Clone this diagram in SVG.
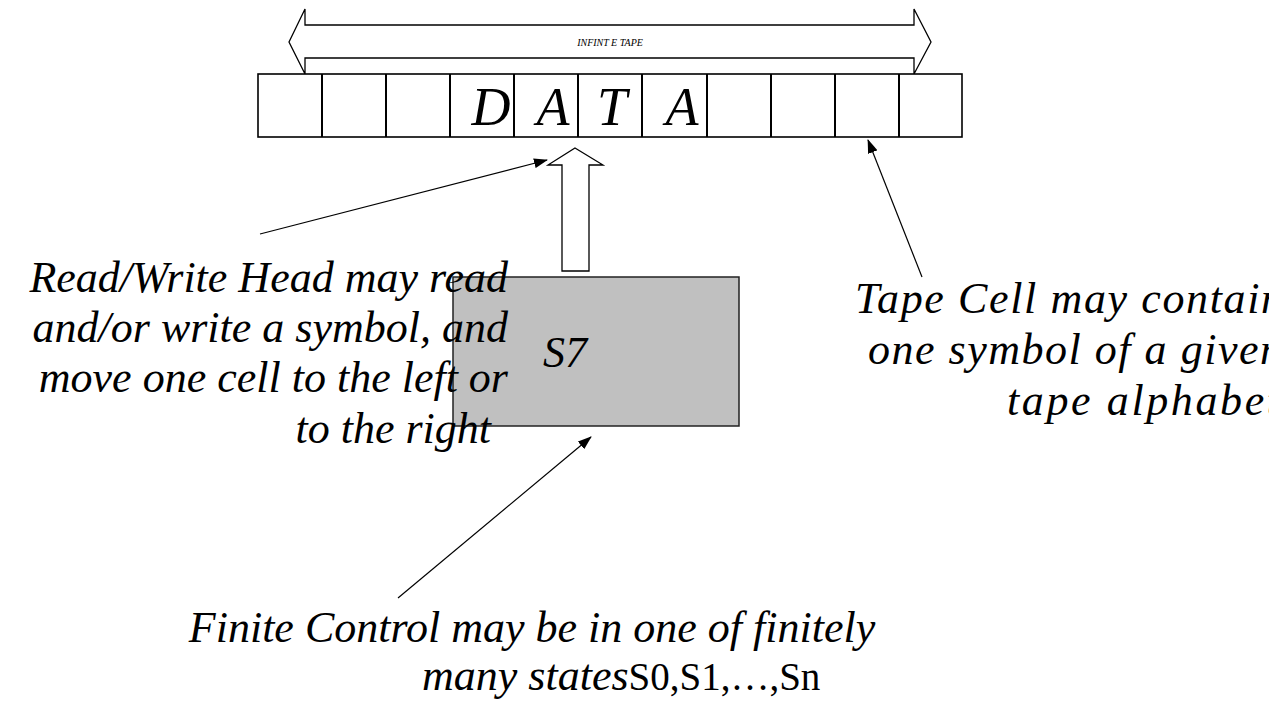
<svg xmlns="http://www.w3.org/2000/svg" width="1269" height="704" viewBox="0 0 1269 704">
<defs>
<marker id="ah" markerWidth="14" markerHeight="10" refX="13" refY="5" orient="auto" markerUnits="userSpaceOnUse">
<path d="M0,0 L14,5 L0,10 Z" fill="#000"/>
</marker>
<style>
.cap{font-family:"Liberation Serif","Times New Roman",serif;font-style:italic;font-size:44px;fill:#000}
.up{font-family:"Liberation Serif","Times New Roman",serif;font-style:normal;fill:#000}
.big{font-family:"Liberation Serif","Times New Roman",serif;font-style:italic;font-size:54px;fill:#000}
.ln{stroke:#000;stroke-width:1.2;fill:none}
.cell{fill:#fff;stroke:#000;stroke-width:1.6}
</style>
</defs>
<rect width="1269" height="704" fill="#fff"/>

<g id="infinite-arrow">
<polygon points="289,42 305,9 305,25 914,25 914,9 931,42 914,74 914,58 305,58 305,74" fill="#fff" stroke="#000" stroke-width="1.3"/>
<text x="610" y="46" text-anchor="middle" font-family="Liberation Serif, serif" font-style="italic" font-size="10">INFINT E TAPE</text>
</g>

<g id="tape">
<rect class="cell" x="258" y="74" width="704" height="63"/>
<path d="M322,74V137M386,74V137M450,74V137M514,74V137M578,74V137M642,74V137M707,74V137M771,74V137M835,74V137M899,74V137" stroke="#000" stroke-width="2" fill="none"/>
<text class="big" x="491" y="125" text-anchor="middle">D</text>
<text class="big" x="553" y="125" text-anchor="middle">A</text>
<text class="big" x="612" y="125" text-anchor="middle">T</text>
<text class="big" x="682" y="125" text-anchor="middle">A</text>
</g>

<g id="head-arrow">
<polygon points="575,148 603,165 589,165 589,271 562,271 562,165 548,165" fill="#fff" stroke="#000" stroke-width="1.3"/>
</g>

<g id="finite-control">
<rect x="453" y="277" width="286" height="149" fill="#c0c0c0" stroke="#222" stroke-width="1.5"/>
<text class="cap" x="543" y="367">S7</text>
</g>

<g id="head-label">
<text class="cap" x="508" y="292" text-anchor="end">Read/Write Head may read</text>
<text class="cap" x="508" y="342" text-anchor="end">and/or write a symbol, and</text>
<text class="cap" x="508" y="392" text-anchor="end">move one cell to the left or</text>
<text class="cap" x="491" y="443" text-anchor="end">to the right</text>
</g>

<g id="cell-label">
<text class="cap" x="855" y="313" textLength="428" lengthAdjust="spacing">Tape Cell may contain</text>
<text class="cap" x="868" y="364" textLength="414" lengthAdjust="spacing">one symbol of a given</text>
<text class="cap" x="1007" y="415" textLength="272" lengthAdjust="spacing">tape alphabet</text>
</g>

<g id="control-label">
<text class="cap" x="532" y="642" text-anchor="middle">Finite Control may be in one of finitely</text>
<text x="422" y="690"><tspan class="cap" font-size="41">many states</tspan><tspan class="up" font-size="39">S0,S1,…,Sn</tspan></text>
</g>

<g id="connectors">
<line class="ln" x1="260" y1="234" x2="547" y2="160" marker-end="url(#ah)"/>
<line class="ln" x1="922" y1="277" x2="868" y2="140" marker-end="url(#ah)"/>
<line class="ln" x1="398" y1="598" x2="591" y2="437" marker-end="url(#ah)"/>
</g>
</svg>
